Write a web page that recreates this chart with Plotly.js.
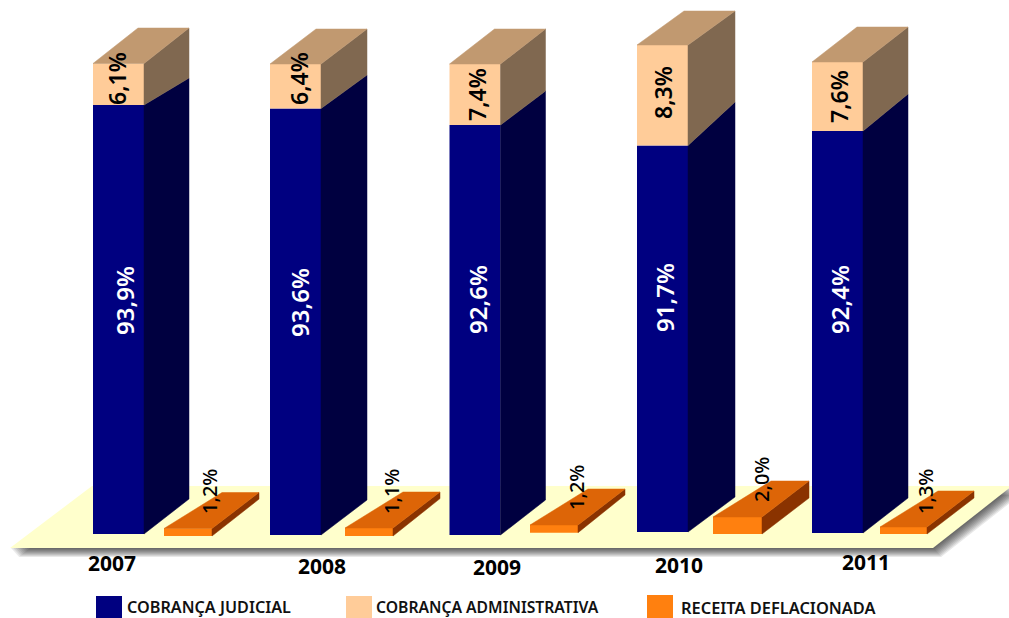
<!DOCTYPE html>
<html><head><meta charset="utf-8">
<script src="https://cdn.plot.ly/plotly-3.0.1.min.js"></script>
<style>html,body{margin:0;padding:0;background:#fff}#c{width:1009px;height:618px}</style>
</head><body><div id="c"></div>
<script>
// ---------- chart data ----------
const years = ['2007','2008','2009','2010','2011'];
const judicialPct = ['93,9%','93,6%','92,6%','91,7%','92,4%'];
const adminPct = ['6,1%','6,4%','7,4%','8,3%','7,6%'];
const receitaPct = ['1,2%','1,1%','1,2%','2,0%','1,3%'];
// drawn heights (the original is not to scale)
const judicialHeight = [429,426.5,410,386.5,402];
const adminHeight = [41.5,44.5,61,100.5,69];
const receitaHeight = [7.5,8,7.7,17,7];
const judicialRear = [421,425,409,395,404];
const adminRear = [50,46,62,91,67];
const receitaRear = [6.6,6.6,6,17,7];

// ---------- layout geometry ----------
const W=1009,H=618;
const Y=p=>H-p;              // axis units measured up from the bottom edge
const base=[534,535,535,532,533].map(Y);
const barL=[93,270,449.5,637,812];
const barW=51;
const depthX=[45,46,45,47,45];
const depthY=35;
const recL=[164,345,530,713,880];
const recR=[212,393,578,762,927];
const recBase=[536,536,532.7,534,534].map(Y);
const recDX=47, recLeftDX=58, recDY=36;
const yearX=[112,322,497,679,866], yearY=[563,566,567,565,562];
const judLab=[[124,301],[299,303],[477,300],[664,298],[839,300]];
const admLab=[[117,79],[299,79],[477,95],[663,93],[839,97]];
const recLab=[[209,492],[391,492],[576,488],[761,480],[925,492]];

const COL={blue:'#000080',blueS:'#000040',peach:'#FFCC99',peachT:'#C19970',peachS:'#806850',
 or:'#FF800F',orT:'#DD6507',orS:'#8A3300',floor:'#FFFFCC'};

function poly(pts,color){return {type:'scatter',mode:'lines',x:[...pts.map(p=>p[0]),pts[0][0]],y:[...pts.map(p=>p[1]),pts[0][1]],
  fill:'toself',fillcolor:color,line:{width:0.5,color:color},hoverinfo:'skip',showlegend:false};}

const centers=barL.map(l=>l+barW/2);
const traces=[];
traces.push({type:'bar',name:'COBRANÇA JUDICIAL',x:centers,y:judicialHeight,base:base,width:barW,marker:{color:COL.blue},showlegend:false});
traces.push({type:'bar',name:'COBRANÇA ADMINISTRATIVA',x:centers,y:adminHeight,base:base.map((b,i)=>b+judicialHeight[i]),width:barW,marker:{color:COL.peach},showlegend:false});
traces.push({type:'bar',name:'RECEITA DEFLACIONADA',x:recL.map((l,i)=>(l+recR[i])/2),y:receitaHeight,base:recBase,width:recL.map((l,i)=>recR[i]-l),marker:{color:COL.or},showlegend:false});

years.forEach((_,i)=>{
  const xl=barL[i],xr=xl+barW,dx=depthX[i],b=base[i],
    m=b+judicialHeight[i],t=m+adminHeight[i],
    bb=b+depthY,mb=bb+judicialRear[i],tb=mb+adminRear[i];
  traces.push(poly([[xr,b],[xr+dx,bb],[xr+dx,mb],[xr,m]],COL.blueS));
  traces.push(poly([[xr,m],[xr+dx,mb],[xr+dx,tb],[xr,t]],COL.peachS));
  traces.push(poly([[xl,t],[xr,t],[xr+dx,tb],[xl+dx,tb]],COL.peachT));
  const l=recL[i],r=recR[i],rb=recBase[i],rt=rb+receitaHeight[i],rtb=rt+recDY,rbb=rtb-receitaRear[i];
  traces.push(poly([[r,rb],[r+recDX,rbb],[r+recDX,rtb],[r,rt]],COL.orS));
  traces.push(poly([[l,rt],[r,rt],[r+recDX,rtb],[l+recLeftDX,rtb]],COL.orT));
});

const floorPts=[[10,548],[933,548],[1012,486],[92,486]];
const path=(pts,ox,oy)=>'M'+pts.map(p=>(p[0]+ox)+','+Y(p[1]+oy)).join('L')+'Z';
const shapes=[];
for(let k=9;k>=1;k--) shapes.push({type:'path',layer:'below',path:path(floorPts,k*0.9,k),fillcolor:'rgba(0,0,0,0.09)',line:{width:0}});
shapes.push({type:'path',layer:'below',path:path(floorPts,0,0),fillcolor:COL.floor,line:{width:0}});
const swatches=[[96,122,COL.blue,596],[346,372,COL.peach,596],[647,673,COL.or,595]];
swatches.forEach(s=>shapes.push({type:'rect',layer:'below',x0:s[0],x1:s[1],y0:Y(s[3]),y1:Y(622),fillcolor:s[2],line:{width:0}}));

const FF='"Noto Sans", sans-serif';
const ann=(x,y,text,size,color,angle,weight)=>({x,y:Y(y),xref:'x',yref:'y',text,showarrow:false,textangle:angle||0,
  xanchor:'center',yanchor:'middle',font:{family:FF,size,color,weight:weight||600}});
const legendText=(x,y,text,size)=>({x,y:Y(y),xref:'x',yref:'y',text,showarrow:false,xanchor:'left',yanchor:'middle',
  borderpad:0,font:{family:FF,size,color:'#111',weight:600}});
const annotations=[];
years.forEach((yr,i)=>{
  annotations.push(ann(yearX[i],yearY[i],yr,21,'#000',0,700));
  annotations.push(ann(judLab[i][0],judLab[i][1],judicialPct[i],24,'#fff',-90));
  annotations.push(ann(admLab[i][0],admLab[i][1],adminPct[i],23,'#000',-90));
  annotations.push(ann(recLab[i][0],recLab[i][1],receitaPct[i],20,'#000',-90,500));
});
annotations.push(legendText(126,607,'COBRANÇA JUDICIAL',16.2));
annotations.push(legendText(375,607,'COBRANÇA ADMINISTRATIVA',15.7));
annotations.push(legendText(680,607,'RECEITA DEFLACIONADA',16.4));

Plotly.newPlot('c',traces,{
  width:W,height:H,margin:{l:0,r:0,t:0,b:0},paper_bgcolor:'#fff',plot_bgcolor:'rgba(0,0,0,0)',
  barmode:'overlay',showlegend:false,
  xaxis:{range:[0,W],visible:false,fixedrange:true},
  yaxis:{range:[0,H],visible:false,fixedrange:true},
  shapes,annotations
},{displayModeBar:false,staticPlot:true});
</script></body></html>
